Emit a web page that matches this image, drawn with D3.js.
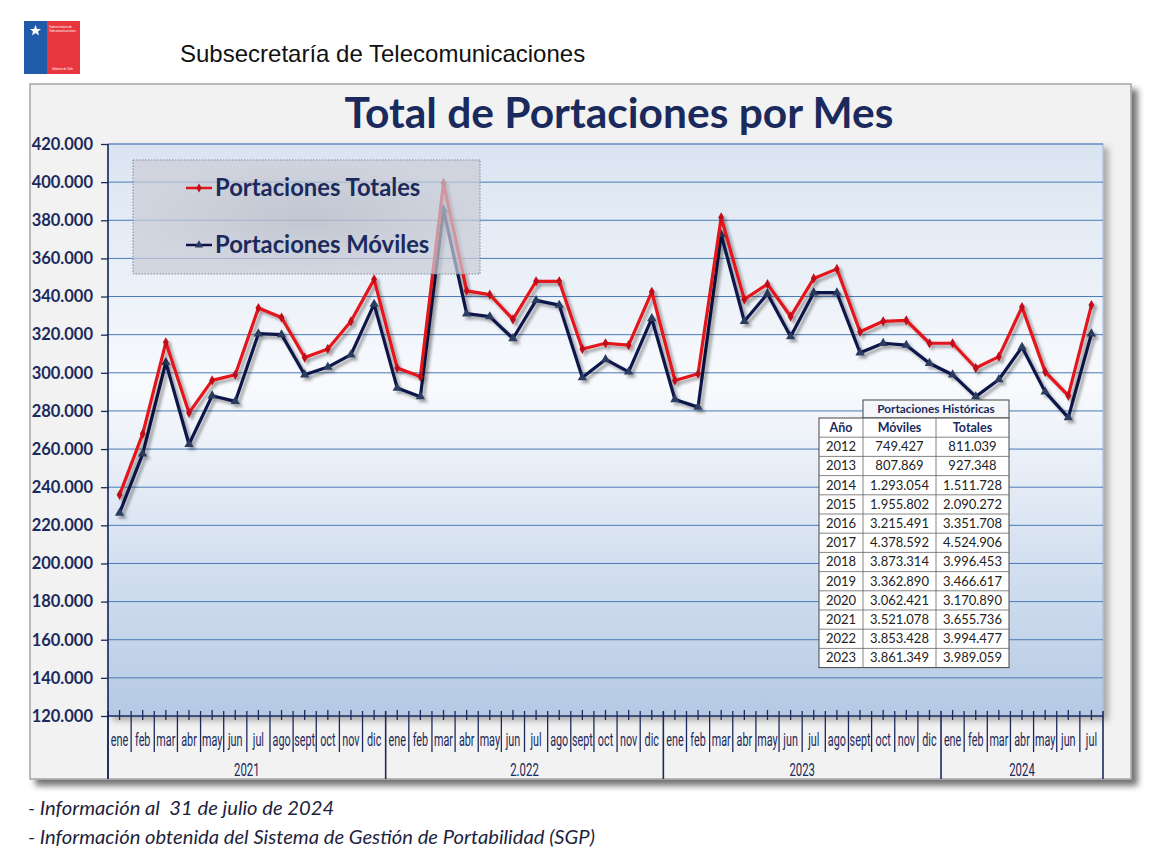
<!DOCTYPE html>
<html lang="es">
<head>
<meta charset="utf-8">
<title>Total de Portaciones por Mes</title>
<script src="https://cdn.jsdelivr.net/npm/d3@7"></script>
<style>
  html, body { margin: 0; padding: 0; background: #fff; }
  svg { display: block; }
</style>
</head>
<body>
<div id="chart"></div>
<script>
// --- data ---
const MONTHS = ["ene", "feb", "mar", "abr", "may", "jun", "jul", "ago", "sept", "oct", "nov", "dic"];
const YEAR_LABELS = ["2021", "2.022", "2023", "2024"];
const MONTHS_PER_YEAR = [12, 12, 12, 7];

const TOTALES = [
  236000, 268000, 316000, 279000, 296000, 299000, 334000, 329000, 308000, 312500, 327000, 349000,
  302500, 298000, 399500, 343000, 341000, 328000, 348000, 348000, 312500, 315500, 314500, 342500,
  296000, 299500, 381500, 338500, 346500, 329500, 349500, 354500, 321500, 327000, 327500, 315500,
  315500, 302500, 308500, 334500, 300500, 288000, 335500,
];
const MOVILES = [
  226500, 257500, 305500, 262500, 288000, 285000, 320500, 320000, 299000, 303000, 309500, 336000,
  292000, 287500, 385500, 331000, 329500, 318000, 338000, 335500, 297500, 307000, 300500, 328500,
  286000, 282000, 372500, 327000, 341500, 319000, 342000, 342000, 310500, 315500, 314500, 305000,
  299000, 287500, 296500, 313500, 290000, 276500, 320500,
];
const Y_TICKS = [120000, 140000, 160000, 180000, 200000, 220000, 240000, 260000, 280000, 300000, 320000, 340000, 360000, 380000, 400000, 420000];

const HIST_YEARS = [2012, 2013, 2014, 2015, 2016, 2017, 2018, 2019, 2020, 2021, 2022, 2023];
const HIST_MOVILES = [749427, 807869, 1293054, 1955802, 3215491, 4378592, 3873314, 3362890, 3062421, 3521078, 3853428, 3861349];
const HIST_TOTALES = [811039, 927348, 1511728, 2090272, 3351708, 4524906, 3996453, 3466617, 3170890, 3655736, 3994477, 3989059];

const NAVY = "#1b2a5c";
const RED = "#e3141c";
const LINE_NAVY = "#0d1548";

const fmt = d3.formatLocale({ decimal: ",", thousands: ".", grouping: [3], currency: ["$", ""] }).format(",d");

const width = 1156;
const height = 868;
const plot = { left: 108, right: 1103, top: 144, bottom: 716 };

const categories = MONTHS_PER_YEAR.flatMap((count, yi) => MONTHS.slice(0, count).map((m) => ({ month: m, year: yi })));

const svg = d3.select("#chart").append("svg").attr("width", width).attr("height", height);
const defs = svg.append("defs");

const frameShadow = defs.append("filter").attr("id", "frame-shadow").attr("x", "-5%").attr("y", "-5%").attr("width", "115%").attr("height", "115%");
frameShadow.append("feDropShadow").attr("dx", 6).attr("dy", 6).attr("stdDeviation", 3).attr("flood-color", "#000").attr("flood-opacity", 0.55);

const plotShadow = defs.append("filter").attr("id", "plot-shadow").attr("x", "-5%").attr("y", "-5%").attr("width", "115%").attr("height", "115%");
plotShadow.append("feDropShadow").attr("dx", 5).attr("dy", 4).attr("stdDeviation", 3).attr("flood-color", "#000").attr("flood-opacity", 0.3);

const lineShadow = defs.append("filter").attr("id", "line-shadow").attr("x", "-10%").attr("y", "-10%").attr("width", "120%").attr("height", "130%");
lineShadow.append("feDropShadow").attr("dx", 3).attr("dy", 3).attr("stdDeviation", 1.6).attr("flood-color", "#000").attr("flood-opacity", 0.35);

const plotGrad = defs.append("linearGradient").attr("id", "plot-grad").attr("x1", 0).attr("y1", 0).attr("x2", 0).attr("y2", 1);
plotGrad.append("stop").attr("offset", "0%").attr("stop-color", "#dae4f1");
plotGrad.append("stop").attr("offset", "42%").attr("stop-color", "#f8fafd");
plotGrad.append("stop").attr("offset", "100%").attr("stop-color", "#b5c9e4");

const legendGrad = defs.append("radialGradient").attr("id", "legend-grad");
legendGrad.append("stop").attr("offset", "0%").attr("stop-color", "#b9bdc9").attr("stop-opacity", 0.8);
legendGrad.append("stop").attr("offset", "100%").attr("stop-color", "#c9ccd6").attr("stop-opacity", 0.7);

// --- header: logo + agency name ---
const logo = svg.append("g").attr("transform", "translate(24,21)");
logo.append("rect").attr("width", 23).attr("height", 53).attr("fill", "#1f5ba8");
logo.append("rect").attr("x", 23).attr("width", 33).attr("height", 53).attr("fill", "#e8363f");
logo.append("path").attr("d", "M11.5,4 L13,8 L17,8 L14,10.5 L15,14.5 L11.5,12 L8,14.5 L9,10.5 L6,8 L10,8 Z").attr("fill", "#fff");
logo.append("text").attr("x", 25).attr("y", 7).attr("font-size", 3).attr("fill", "#fff").attr("font-family", "Liberation Sans, Arial").text("Subsecretaría de");
logo.append("text").attr("x", 25).attr("y", 11).attr("font-size", 3).attr("fill", "#fff").attr("font-family", "Liberation Sans, Arial").text("Telecomunicaciones");
logo.append("text").attr("x", 28).attr("y", 49).attr("font-size", 2.6).attr("fill", "#fff").attr("font-family", "Liberation Sans, Arial").text("Gobierno de Chile");

svg.append("text")
  .attr("x", 180).attr("y", 62)
  .attr("font-family", "Liberation Sans, Arial, sans-serif")
  .attr("font-size", 24)
  .attr("fill", "#111")
  .text("Subsecretaría de Telecomunicaciones");

// --- chart frame ---
svg.append("rect")
  .attr("x", 30).attr("y", 84).attr("width", 1101).attr("height", 695)
  .attr("fill", "#f2f2f2").attr("stroke", "#a6a6a6").attr("stroke-width", 1.5)
  .attr("filter", "url(#frame-shadow)");

svg.append("text")
  .attr("x", 619).attr("y", 128)
  .attr("text-anchor", "middle")
  .attr("font-family", "Lato, 'Open Sans', sans-serif")
  .attr("font-weight", 700)
  .attr("font-size", 42.5)
  .attr("fill", NAVY)
  .text("Total de Portaciones por Mes");

// --- scales ---
const x = d3.scaleBand().domain(d3.range(categories.length)).range([plot.left, plot.right]);
const y = d3.scaleLinear().domain([Y_TICKS[0], Y_TICKS[Y_TICKS.length - 1]]).range([plot.bottom, plot.top]);
const cx = (i) => x(i) + x.bandwidth() / 2;

svg.append("rect")
  .attr("x", plot.left).attr("y", plot.top)
  .attr("width", plot.right - plot.left).attr("height", plot.bottom - plot.top)
  .attr("fill", "url(#plot-grad)").attr("stroke", "#9db5d6").attr("stroke-width", 1)
  .attr("filter", "url(#plot-shadow)");

// gridlines
svg.append("g")
  .selectAll("line")
  .data(Y_TICKS.slice(1))
  .join("line")
  .attr("x1", plot.left).attr("x2", plot.right)
  .attr("y1", (d) => y(d)).attr("y2", (d) => y(d))
  .attr("stroke", "#4a7bb7").attr("stroke-width", 1);

// y axis
svg.append("g")
  .attr("transform", `translate(${plot.left},0)`)
  .call(d3.axisLeft(y).tickValues(Y_TICKS).tickSize(7).tickPadding(8).tickFormat(fmt))
  .call((g) => g.select(".domain").remove())
  .call((g) => g.selectAll("line").attr("stroke", NAVY).attr("stroke-width", 1.3))
  .call((g) => g.selectAll("text")
    .attr("fill", NAVY)
    .attr("font-family", "Lato, 'Open Sans', sans-serif")
    .attr("font-weight", 700)
    .attr("font-size", 16.5));

svg.append("line")
  .attr("x1", plot.left).attr("x2", plot.left)
  .attr("y1", plot.top).attr("y2", 779)
  .attr("stroke", NAVY).attr("stroke-width", 1.6);

// category axis (two levels)
const catAxis = svg.append("g").attr("class", "cat-axis");
catAxis.append("line")
  .attr("x1", plot.left).attr("x2", plot.right)
  .attr("y1", plot.bottom).attr("y2", plot.bottom)
  .attr("stroke", NAVY).attr("stroke-width", 1.6);

catAxis.append("g")
  .selectAll("line")
  .data(categories)
  .join("line")
  .attr("x1", (d, i) => cx(i)).attr("x2", (d, i) => cx(i))
  .attr("y1", plot.bottom - 6).attr("y2", plot.bottom + 4)
  .attr("stroke", NAVY).attr("stroke-width", 1.3);

const yearStarts = d3.cumsum([0, ...MONTHS_PER_YEAR]);
catAxis.append("g")
  .selectAll("line")
  .data(d3.range(categories.length + 1))
  .join("line")
  .attr("x1", (i) => (i < categories.length ? x(i) : plot.right))
  .attr("x2", (i) => (i < categories.length ? x(i) : plot.right))
  .attr("y1", plot.bottom - 5)
  .attr("y2", (i) => (yearStarts.includes(i) ? 779 : 752))
  .attr("stroke", NAVY).attr("stroke-width", (i) => (yearStarts.includes(i) ? 1.6 : 1.3));

catAxis.append("g")
  .selectAll("text")
  .data(categories)
  .join("text")
  .attr("transform", (d, i) => `translate(${cx(i)},746) scale(0.6,1)`)
  .attr("text-anchor", "middle")
  .attr("font-family", "Roboto, 'DejaVu Sans Condensed', sans-serif")
  .attr("font-size", 18)
  .attr("fill", NAVY)
  .text((d) => d.month);

catAxis.append("g")
  .selectAll("text")
  .data(YEAR_LABELS)
  .join("text")
  .attr("transform", (d, i) => {
    const start = x(yearStarts[i]);
    const end = yearStarts[i + 1] < categories.length ? x(yearStarts[i + 1]) : plot.right;
    return `translate(${(start + end) / 2},776) scale(0.6,1)`;
  })
  .attr("text-anchor", "middle")
  .attr("font-family", "Roboto, 'DejaVu Sans Condensed', sans-serif")
  .attr("font-size", 19)
  .attr("fill", NAVY)
  .text((d) => d);

// --- series ---
const line = d3.line().x((d, i) => cx(i)).y((d) => y(d));
const series = [
  { key: "Portaciones Móviles", values: MOVILES, color: LINE_NAVY, marker: d3.symbolTriangle, markerFill: "#2c3c60", size: 38 },
  { key: "Portaciones Totales", values: TOTALES, color: RED, marker: d3.symbolDiamond, markerFill: "#c0101a", size: 30 },
];

series.forEach((s) => {
  const g = svg.append("g").attr("filter", "url(#line-shadow)");
  g.append("path")
    .attr("d", line(s.values))
    .attr("fill", "none")
    .attr("stroke", s.color)
    .attr("stroke-width", 3.2)
    .attr("stroke-linejoin", "round");
  g.selectAll("path.marker")
    .data(s.values)
    .join("path")
    .attr("class", "marker")
    .attr("transform", (d, i) => `translate(${cx(i)},${y(d)})`)
    .attr("d", d3.symbol().type(s.marker).size(s.size))
    .attr("fill", s.markerFill);
});

// --- legend ---
const legend = svg.append("g");
legend.append("rect")
  .attr("x", 133).attr("y", 160).attr("width", 347).attr("height", 114)
  .attr("fill", "url(#legend-grad)")
  .attr("stroke", "#7d879c").attr("stroke-width", 1).attr("stroke-dasharray", "1.5,1.5");

const legendItems = [
  { label: "Portaciones Totales", color: RED, marker: d3.symbolDiamond, markerFill: "#c0101a", size: 24, yPos: 188 },
  { label: "Portaciones Móviles", color: LINE_NAVY, marker: d3.symbolTriangle, markerFill: "#2c3c60", size: 30, yPos: 245 },
];
legendItems.forEach((item) => {
  legend.append("line")
    .attr("x1", 186).attr("x2", 212)
    .attr("y1", item.yPos).attr("y2", item.yPos)
    .attr("stroke", item.color).attr("stroke-width", 2.5);
  legend.append("path")
    .attr("transform", `translate(199,${item.yPos})`)
    .attr("d", d3.symbol().type(item.marker).size(item.size))
    .attr("fill", item.markerFill);
  legend.append("text")
    .attr("x", 215).attr("y", item.yPos + 8)
    .attr("font-family", "Lato, 'Open Sans', sans-serif")
    .attr("font-weight", 700)
    .attr("font-size", 23.8)
    .attr("fill", NAVY)
    .text(item.label);
});

// --- historical table ---
const table = svg.append("g").attr("font-family", "Lato, 'Open Sans', sans-serif");
const colX = [819, 863, 936, 1009];
const headTop = 400;
const headRow = 418;
const rowH = 19.2;
const tableBottom = headRow + rowH * (HIST_YEARS.length + 1);

table.append("rect")
  .attr("x", colX[1]).attr("y", headTop).attr("width", colX[3] - colX[1]).attr("height", headRow - headTop)
  .attr("fill", "#f4f6fa").attr("stroke", "#444").attr("stroke-width", 1);
table.append("text")
  .attr("x", (colX[1] + colX[3]) / 2).attr("y", headTop + 13)
  .attr("text-anchor", "middle").attr("font-size", 11.8).attr("font-weight", 700).attr("fill", NAVY)
  .text("Portaciones Históricas");

table.append("rect")
  .attr("x", colX[0]).attr("y", headRow).attr("width", colX[3] - colX[0]).attr("height", tableBottom - headRow)
  .attr("fill", "#fff").attr("stroke", "#444").attr("stroke-width", 1);

table.append("g")
  .selectAll("line")
  .data(d3.range(1, HIST_YEARS.length + 1))
  .join("line")
  .attr("x1", colX[0]).attr("x2", colX[3])
  .attr("y1", (i) => headRow + i * rowH).attr("y2", (i) => headRow + i * rowH)
  .attr("stroke", "#666").attr("stroke-width", 0.8);

table.append("g")
  .selectAll("line")
  .data([colX[1], colX[2]])
  .join("line")
  .attr("x1", (d) => d).attr("x2", (d) => d)
  .attr("y1", headRow).attr("y2", tableBottom)
  .attr("stroke", "#666").attr("stroke-width", 0.8);

const colCenters = [0, 1, 2].map((c) => (colX[c] + colX[c + 1]) / 2);
["Año", "Móviles", "Totales"].forEach((h, c) => {
  table.append("text")
    .attr("x", colCenters[c]).attr("y", headRow + 14)
    .attr("text-anchor", "middle").attr("font-size", 12.5).attr("font-weight", 700).attr("fill", NAVY)
    .text(h);
});

const rows = HIST_YEARS.map((yr, i) => [String(yr), fmt(HIST_MOVILES[i]), fmt(HIST_TOTALES[i])]);
rows.forEach((cells, r) => {
  cells.forEach((txt, c) => {
    table.append("text")
      .attr("x", colCenters[c]).attr("y", headRow + (r + 1) * rowH + 14)
      .attr("text-anchor", "middle").attr("font-size", 13).attr("fill", "#222")
      .text(txt);
  });
});

// --- footnotes ---
const notes = ["- Información al  31 de julio de 2024", "- Información obtenida del Sistema de Gestión de Portabilidad (SGP)"];
svg.append("g")
  .selectAll("text")
  .data(notes)
  .join("text")
  .attr("x", 28).attr("y", (d, i) => 815 + i * 29)
  .style("white-space", "pre")
  .attr("font-family", "Lato, 'Open Sans', sans-serif")
  .attr("font-style", "italic")
  .attr("font-size", 20.2)
  .attr("fill", "#1d1f3d")
  .text((d) => d);
</script>
</body>
</html>
